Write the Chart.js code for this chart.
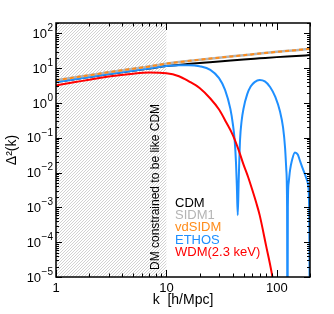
<!DOCTYPE html>
<html>
<head>
<meta charset="utf-8">
<script src="https://cdn.jsdelivr.net/npm/chart.js@4.4.0/dist/chart.umd.min.js"></script>
<style>
  body { margin: 0; background: #fff; }
  #wrap { width: 334px; height: 314px; }
</style>
</head>
<body>
<div id="wrap"><canvas id="c" width="334" height="314"></canvas></div>
<script>
// k [h/Mpc] sampling for the smooth curves
const kGrid = [1, 1.5, 2, 3, 5, 7, 10, 15, 20, 30, 50, 70, 100, 150, 200];
const cdm    = [4.0, 4.9, 5.6, 6.8, 8.5, 9.8, 11.6, 13.1, 14.2, 15.6, 17.9, 19.3, 20.9, 22.5, 23.9];
const sidm1  = [4.5, 5.5, 6.3, 7.7, 9.7, 11.3, 13.6, 15.9, 17.6, 20.2, 23.7, 26.5, 29.6, 33.2, 36.5];
const vdsidm = [4.5, 5.5, 6.3, 7.7, 9.7, 11.3, 13.6, 15.9, 17.6, 20.2, 23.7, 26.5, 29.6, 33.2, 36.5];

const kEthos = [1, 2, 3, 5, 7, 10, 13, 16, 20, 25, 30, 34, 38, 40, 41.5, 42.7, 43.5, 44.3, 45.2, 46.5, 48, 50, 54, 58, 63, 70, 78, 87, 97, 107, 114, 119, 122, 124, 125, 126, 128, 132, 137, 146, 155, 163, 172, 181, 188, 193, 197, 200];
const ethos  = [4.0, 5.6, 6.8, 8.5, 9.8, 11.6, 12.2, 12.3, 11.4, 9.0, 5.2, 2.4, 0.68, 0.25, 0.09, 0.02, 0.004, 0.0006, 0.006, 0.09, 0.3, 0.7, 1.8, 3.0, 4.0, 4.6, 4.2, 2.9, 1.5, 0.57, 0.2, 0.05, 0.012, 0.001, 1e-8, 0.001, 0.005, 0.012, 0.022, 0.038, 0.033, 0.021, 0.013, 0.0085, 0.006, 0.004, 0.0005, 1e-8];

const kWdm = [1, 1.5, 2, 3, 5, 7, 10, 13, 16, 20, 25, 30, 35, 40, 45, 50, 55, 60, 65, 70, 80, 90, 100];
const wdm  = [3.2, 4.0, 4.7, 5.8, 7.0, 7.5, 7.2, 5.9, 4.2, 2.7, 1.35, 0.65, 0.27, 0.12, 0.046, 0.017, 0.0075, 0.0032, 0.0014, 0.0006, 0.00008, 0.000013, 0.0000015];

const xTicks = [1, 10, 100];
const yTicks = [1e-5, 1e-4, 1e-3, 1e-2, 1e-1, 1, 10, 100];
const hatchRange = [1, 10];
const legendItems = ['CDM', 'SIDM1', 'vdSIDM', 'ETHOS', 'WDM(2.3 keV)'];
const legendColors = ['#000000', '#b4b4b4', '#ff8c1a', '#1e8fff', '#ff0000'];

const pts = (ks, vs) => ks.map((k, i) => ({ x: k, y: vs[i] }));
const FONT = '"Liberation Sans", Arial, sans-serif';

const hatch = {
    id: 'hatch',
    beforeDatasetsDraw(chart) {
        const { ctx, chartArea: a, scales: { x } } = chart;
        const x0 = x.getPixelForValue(hatchRange[0]);
        const x1 = x.getPixelForValue(hatchRange[1]);
        const h = a.bottom - a.top;
        ctx.save();
        ctx.beginPath();
        ctx.rect(x0, a.top, x1 - x0, h);
        ctx.clip();
        ctx.beginPath();
        ctx.strokeStyle = '#b4b4b4';
        ctx.lineWidth = 0.6;
        for (let s = x0 - h; s < x1; s += 3) {
            ctx.moveTo(s, a.bottom);
            ctx.lineTo(s + h, a.top);
        }
        ctx.stroke();
        ctx.restore();

        // label along the edge of the hatched region
        ctx.save();
        ctx.translate(x1 - 11, a.bottom - 7);
        ctx.rotate(-Math.PI / 2);
        ctx.fillStyle = '#000';
        ctx.font = '12px ' + FONT;
        ctx.textAlign = 'left';
        ctx.textBaseline = 'middle';
        ctx.fillText('DM constrained to be like CDM', 0, 0);
        ctx.restore();
    }
};

const frame = {
    id: 'frame',
    afterDatasetsDraw(chart) {
        const { ctx, chartArea: a, scales: { x, y } } = chart;
        ctx.save();
        ctx.strokeStyle = '#000';
        ctx.lineWidth = 1;
        ctx.beginPath();
        for (let d = 0; d <= 2; d++) {
            for (let m = 1; m <= 9; m++) {
                const v = m * Math.pow(10, d);
                if (v < x.min || v > x.max) continue;
                const px = Math.round(x.getPixelForValue(v)) + 0.5;
                const len = m === 1 ? 7 : 3.5;
                ctx.moveTo(px, a.bottom); ctx.lineTo(px, a.bottom - len);
                ctx.moveTo(px, a.top); ctx.lineTo(px, a.top + len);
            }
        }
        for (let d = -5; d <= 2; d++) {
            for (let m = 1; m <= 9; m++) {
                const v = m * Math.pow(10, d);
                if (v < y.min || v > y.max) continue;
                const py = Math.round(y.getPixelForValue(v)) + 0.5;
                const len = m === 1 ? 6 : 3;
                ctx.moveTo(a.left, py); ctx.lineTo(a.left + len, py);
                ctx.moveTo(a.right, py); ctx.lineTo(a.right - len, py);
            }
        }
        ctx.stroke();
        ctx.lineWidth = 1.5;
        ctx.strokeRect(a.left, a.top, a.right - a.left, a.bottom - a.top);

        // y tick labels as 10 with a raised exponent
        ctx.fillStyle = '#000';
        ctx.textAlign = 'right';
        ctx.textBaseline = 'middle';
        yTicks.forEach(v => {
            const py = y.getPixelForValue(v);
            const e = String(Math.round(Math.log10(v))).replace('-', '\u2212');
            ctx.font = '10px ' + FONT;
            const ew = ctx.measureText(e).width;
            ctx.fillText(e, a.left - 3, py - 5);
            ctx.font = '13px ' + FONT;
            ctx.fillText('10', a.left - 3 - ew - 0.5, py + 1);
        });

        // text legend
        ctx.font = '13px ' + FONT;
        ctx.textAlign = 'left';
        legendItems.forEach((t, i) => {
            ctx.fillStyle = legendColors[i];
            ctx.fillText(t, a.left + 119, a.top + 180 + i * 12.4);
        });
        ctx.restore();
    }
};

new Chart(document.getElementById('c'), {
    type: 'line',
    data: {
        datasets: [
            { label: 'vdSIDM', data: pts(kGrid, vdsidm), borderColor: legendColors[2], borderWidth: 2, borderDash: [4, 3] },
            { label: 'SIDM1', data: pts(kGrid, sidm1), borderColor: legendColors[1], borderWidth: 2.5 },
            { label: 'WDM(2.3 keV)', data: pts(kWdm, wdm), borderColor: legendColors[4], borderWidth: 2 },
            { label: 'ETHOS', data: pts(kEthos, ethos), borderColor: legendColors[3], borderWidth: 2 },
            { label: 'CDM', data: pts(kGrid, cdm), borderColor: legendColors[0], borderWidth: 2 }
        ]
    },
    options: {
        responsive: false,
        animation: false,
        elements: { point: { radius: 0 }, line: { cubicInterpolationMode: 'monotone' } },
        layout: { padding: { left: 0, right: 24, top: 23, bottom: 4 } },
        plugins: { legend: { display: false }, tooltip: { enabled: false } },
        scales: {
            x: {
                type: 'logarithmic',
                min: 1,
                max: 200,
                afterBuildTicks: (s) => { s.ticks = xTicks.map(v => ({ value: v })); },
                afterFit: (s) => { s.height = 33; },
                grid: { display: false, drawTicks: false },
                border: { display: false },
                ticks: {
                    color: '#000',
                    padding: 4,
                    maxRotation: 0,
                    font: { family: FONT, size: 13 },
                    callback: (v) => String(v)
                },
                title: {
                    display: true,
                    text: 'k  [h/Mpc]',
                    color: '#000',
                    font: { family: FONT, size: 14 },
                    padding: { top: 0, bottom: 1 }
                }
            },
            y: {
                type: 'logarithmic',
                min: 1e-5,
                max: 200,
                afterBuildTicks: (s) => { s.ticks = yTicks.map(v => ({ value: v })); },
                afterFit: (s) => { s.width = 56; },
                grid: { display: false, drawTicks: false },
                border: { display: false },
                ticks: { display: false },
                title: {
                    display: true,
                    text: '\u0394\u00B2(k)',
                    color: '#000',
                    font: { family: FONT, size: 14 },
                    padding: { top: 4, bottom: 0 }
                }
            }
        }
    },
    plugins: [hatch, frame]
});
</script>
</body>
</html>
